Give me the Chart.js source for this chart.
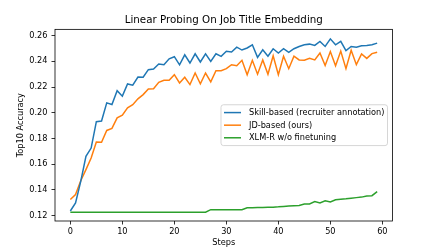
<!DOCTYPE html>
<html>
<head>
<meta charset="utf-8">
<script src="https://cdn.jsdelivr.net/npm/chart.js@4.4.0/dist/chart.umd.min.js"></script>
<style>
    html, body { margin: 0; padding: 0; background: #ffffff; }
    canvas { display: block; }
</style>
</head>
<body>
<canvas id="probing-chart" width="436" height="249"></canvas>
<script>
    "use strict";

    // Data
    var steps = [0, 1, 2, 3, 4, 5, 6, 7, 8, 9, 10, 11, 12, 13, 14, 15, 16, 17, 18, 19,
        20, 21, 22, 23, 24, 25, 26, 27, 28, 29, 30, 31, 32, 33, 34, 35, 36, 37, 38, 39,
        40, 41, 42, 43, 44, 45, 46, 47, 48, 49, 50, 51, 52, 53, 54, 55, 56, 57, 58, 59];

    var skillBased = [0.1235, 0.1298, 0.1466, 0.1660, 0.1725, 0.1930, 0.1935, 0.2077, 0.2064, 0.2172,
        0.2129, 0.2224, 0.2214, 0.2278, 0.2276, 0.2335, 0.2340, 0.2379, 0.2373, 0.2420,
        0.2436, 0.2373, 0.2451, 0.2387, 0.2459, 0.2395, 0.2459, 0.2400, 0.2459, 0.2439,
        0.2478, 0.2473, 0.2511, 0.2488, 0.2504, 0.2529, 0.2431, 0.2490, 0.2440, 0.2498,
        0.2465, 0.2498, 0.2470, 0.2498, 0.2516, 0.2529, 0.2534, 0.2524, 0.2555, 0.2516,
        0.2575, 0.2529, 0.2555, 0.2483, 0.2516, 0.2509, 0.2521, 0.2524, 0.2529, 0.2542];

    var jdBased = [0.1324, 0.1363, 0.1470, 0.1557, 0.1648, 0.1772, 0.1770, 0.1862, 0.1878, 0.1960,
        0.1981, 0.2038, 0.2063, 0.2108, 0.2141, 0.2185, 0.2187, 0.2237, 0.2253, 0.2253,
        0.2296, 0.2232, 0.2276, 0.2219, 0.2309, 0.2225, 0.2309, 0.2240, 0.2327, 0.2327,
        0.2343, 0.2374, 0.2366, 0.2408, 0.2296, 0.2408, 0.2300, 0.2411, 0.2300, 0.2444,
        0.2296, 0.2440, 0.2343, 0.2440, 0.2411, 0.2408, 0.2423, 0.2411, 0.2465, 0.2368,
        0.2476, 0.2366, 0.2480, 0.2343, 0.2486, 0.2374, 0.2457, 0.2423, 0.2460, 0.2470];

    var xlmrBase = [0.1225, 0.1225, 0.1225, 0.1225, 0.1225, 0.1225, 0.1225, 0.1225, 0.1225, 0.1225,
        0.1225, 0.1225, 0.1225, 0.1225, 0.1225, 0.1225, 0.1225, 0.1225, 0.1225, 0.1225,
        0.1225, 0.1225, 0.1225, 0.1225, 0.1225, 0.1225, 0.1225, 0.1245, 0.1245, 0.1245,
        0.1245, 0.1245, 0.1245, 0.1245, 0.1260, 0.1261, 0.1262, 0.1263, 0.1264, 0.1265,
        0.1267, 0.1270, 0.1273, 0.1276, 0.1278, 0.1290, 0.1290, 0.1308, 0.1298, 0.1315,
        0.1305, 0.1322, 0.1326, 0.1330, 0.1335, 0.1339, 0.1343, 0.1352, 0.1354, 0.1385];

    var seriesLabels = ["Skill-based (recruiter annotation)", "JD-based (ours)", "XLM-R w/o finetuning"];
    var xTicks = [0, 10, 20, 30, 40, 50, 60];
    var yTicks = [0.12, 0.14, 0.16, 0.18, 0.20, 0.22, 0.24, 0.26];


    var FONT = '"DejaVu Sans", "Liberation Sans", sans-serif';

    function toPoints(values) {
        return values.map(function (v, i) {
            return {x: steps[i], y: v};
        });
    }

    // Frame round the axes, like matplotlib spines
    var axesFrame = {
        id: 'axesFrame',
        afterDraw: function (chart) {
            var a = chart.chartArea, ctx = chart.ctx;
            ctx.save();
            ctx.strokeStyle = '#000000';
            ctx.lineWidth = 0.8;
            ctx.strokeRect(a.left, a.top, a.right - a.left, a.bottom - a.top);
            ctx.restore();
        }
    };

    // Legend box inside the axes, center right
    var boxLegend = {
        id: 'boxLegend',
        afterDraw: function (chart) {
            var a = chart.chartArea, ctx = chart.ctx;
            var sets = chart.data.datasets;
            ctx.save();
            ctx.font = '8.2px ' + FONT;
            var textW = 0;
            sets.forEach(function (ds) {
                textW = Math.max(textW, ctx.measureText(ds.label).width);
            });
            var pad = 3, handle = 17, gap = 8, rowH = 12.6;
            var boxW = pad + handle + gap + textW + pad;
            var boxH = rowH * sets.length + 3;
            var x0 = a.right - 5 - boxW;
            var y0 = (a.top + a.bottom) / 2 - boxH / 2;

            ctx.beginPath();
            ctx.roundRect(x0, y0, boxW, boxH, 2.5);
            ctx.fillStyle = 'rgba(255,255,255,0.8)';
            ctx.fill();
            ctx.strokeStyle = '#cccccc';
            ctx.lineWidth = 0.8;
            ctx.stroke();

            ctx.textBaseline = 'middle';
            ctx.textAlign = 'left';
            sets.forEach(function (ds, i) {
                var cy = y0 + 1.5 + rowH * (i + 0.5);
                ctx.beginPath();
                ctx.moveTo(x0 + pad, cy);
                ctx.lineTo(x0 + pad + handle, cy);
                ctx.strokeStyle = ds.borderColor;
                ctx.lineWidth = 1.5;
                ctx.stroke();
                ctx.fillStyle = '#000000';
                ctx.fillText(ds.label, x0 + pad + handle + gap, cy + 0.5);
            });
            ctx.restore();
        }
    };

    var ctx1 = document.getElementById('probing-chart').getContext('2d');
    var myChart1 = new Chart(ctx1, {
        type: 'line',
        data: {
            datasets: [{
                label: seriesLabels[0],
                data: toPoints(skillBased),
                borderColor: '#1f77b4'
            }, {
                label: seriesLabels[1],
                data: toPoints(jdBased),
                borderColor: '#ff7f0e'
            }, {
                label: seriesLabels[2],
                data: toPoints(xlmrBase),
                borderColor: '#2ca02c'
            }]
        },
        options: {
            responsive: false,
            animation: false,
            devicePixelRatio: 1,
            layout: {padding: {left: 0, right: 43.5, top: 0, bottom: 0}},
            elements: {
                line: {borderWidth: 1.5, tension: 0, fill: false},
                point: {radius: 0, hoverRadius: 0}
            },
            plugins: {
                legend: {display: false},
                tooltip: {enabled: false},
                title: {
                    display: true,
                    fullSize: false,
                    text: 'Linear Probing On Job Title Embedding',
                    color: '#000000',
                    font: {family: FONT, size: 10.3, weight: 'normal'},
                    padding: {top: 14, bottom: 3}
                }
            },
            scales: {
                x: {
                    type: 'linear',
                    min: -2.95,
                    max: 61.95,
                    afterBuildTicks: function (s) {
                        s.ticks = xTicks.map(function (v) { return {value: v}; });
                    },
                    afterFit: function (s) { s.height = 28; },
                    border: {display: false},
                    grid: {drawOnChartArea: false, drawTicks: true, tickLength: 3.5, color: '#000000', lineWidth: 0.8},
                    ticks: {
                        color: '#000000',
                        padding: 2.5,
                        maxRotation: 0,
                        font: {family: FONT, size: 8.2},
                        callback: function (v) { return v; }
                    },
                    title: {
                        display: true,
                        text: 'Steps',
                        color: '#000000',
                        font: {family: FONT, size: 8.2},
                        padding: {top: 0, bottom: 1.5}
                    }
                },
                y: {
                    type: 'linear',
                    min: 0.1157,
                    max: 0.2649,
                    afterBuildTicks: function (s) {
                        s.ticks = yTicks.map(function (v) { return {value: v}; });
                    },
                    afterFit: function (s) { s.width = 55; },
                    border: {display: false},
                    grid: {drawOnChartArea: false, drawTicks: true, tickLength: 3.5, color: '#000000', lineWidth: 0.8},
                    ticks: {
                        color: '#000000',
                        padding: 4,
                        font: {family: FONT, size: 8.2},
                        callback: function (v) { return v.toFixed(2); }
                    },
                    title: {
                        display: true,
                        text: 'Top10 Accuracy',
                        color: '#000000',
                        font: {family: FONT, size: 8.2},
                        padding: {top: 16, bottom: 0}
                    }
                }
            }
        },
        plugins: [axesFrame, boxLegend]
    });
</script>
</body>
</html>
